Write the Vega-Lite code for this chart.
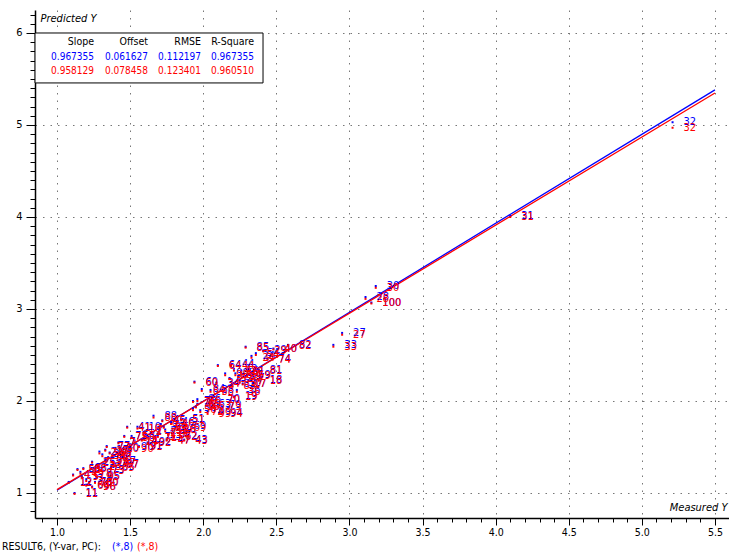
{
  "$schema": "https://vega.github.io/schema/vega-lite/v6.json",
  "width": 694,
  "height": 508,
  "autosize": {"type": "none"},
  "padding": {"left": 35, "top": 10, "right": 0, "bottom": 38},
  "background": "white",
  "config": {
    "view": {"stroke": null},
    "font": "Liberation Sans Narrow, DejaVu Sans Condensed, Arial Narrow, sans-serif"
  },
  "datasets": {
    "samples": [
      {"sample": "1", "measured": 1.58, "pred_blue": 1.58, "pred_red": 1.57},
      {"sample": "2", "measured": 1.60, "pred_blue": 1.67, "pred_red": 1.66},
      {"sample": "3", "measured": 1.20, "pred_blue": 1.15, "pred_red": 1.13},
      {"sample": "4", "measured": 1.11, "pred_blue": 1.20, "pred_red": 1.19},
      {"sample": "5", "measured": 1.17, "pred_blue": 1.18, "pred_red": 1.17},
      {"sample": "6", "measured": 1.96, "pred_blue": 1.97, "pred_red": 1.96},
      {"sample": "7", "measured": 1.42, "pred_blue": 1.55, "pred_red": 1.54},
      {"sample": "8", "measured": 1.26, "pred_blue": 1.22, "pred_red": 1.21},
      {"sample": "9", "measured": 1.71, "pred_blue": 1.75, "pred_red": 1.73},
      {"sample": "10", "measured": 1.55, "pred_blue": 1.72, "pred_red": 1.70},
      {"sample": "11", "measured": 1.12, "pred_blue": 1.00, "pred_red": 0.99},
      {"sample": "12", "measured": 1.08, "pred_blue": 1.12, "pred_red": 1.11},
      {"sample": "13", "measured": 1.69, "pred_blue": 1.63, "pred_red": 1.61},
      {"sample": "14", "measured": 1.53, "pred_blue": 1.57, "pred_red": 1.55},
      {"sample": "15", "measured": 1.33, "pred_blue": 1.47, "pred_red": 1.46},
      {"sample": "16", "measured": 1.95, "pred_blue": 1.94, "pred_red": 1.93},
      {"sample": "17", "measured": 2.27, "pred_blue": 2.19, "pred_red": 2.18},
      {"sample": "18", "measured": 2.38, "pred_blue": 2.23, "pred_red": 2.22},
      {"sample": "19", "measured": 2.21, "pred_blue": 2.05, "pred_red": 2.04},
      {"sample": "20", "measured": 1.40, "pred_blue": 1.49, "pred_red": 1.48},
      {"sample": "21", "measured": 1.70, "pred_blue": 1.67, "pred_red": 1.65},
      {"sample": "22", "measured": 1.29, "pred_blue": 1.45, "pred_red": 1.43},
      {"sample": "23", "measured": 1.28, "pred_blue": 1.30, "pred_red": 1.28},
      {"sample": "24", "measured": 2.33, "pred_blue": 2.49, "pred_red": 2.47},
      {"sample": "25", "measured": 1.24, "pred_blue": 1.34, "pred_red": 1.33},
      {"sample": "26", "measured": 1.79, "pred_blue": 1.70, "pred_red": 1.68},
      {"sample": "27", "measured": 2.95, "pred_blue": 2.74, "pred_red": 2.72},
      {"sample": "28", "measured": 3.11, "pred_blue": 3.13, "pred_red": 3.11},
      {"sample": "29", "measured": 2.41, "pred_blue": 2.55, "pred_red": 2.54},
      {"sample": "30", "measured": 3.18, "pred_blue": 3.25, "pred_red": 3.23},
      {"sample": "31", "measured": 4.10, "pred_blue": 4.01, "pred_red": 4.00},
      {"sample": "32", "measured": 5.21, "pred_blue": 5.03, "pred_red": 4.97},
      {"sample": "33", "measured": 2.89, "pred_blue": 2.61, "pred_red": 2.59},
      {"sample": "34", "measured": 2.09, "pred_blue": 2.20, "pred_red": 2.19},
      {"sample": "35", "measured": 1.31, "pred_blue": 1.42, "pred_red": 1.40},
      {"sample": "36", "measured": 2.23, "pred_blue": 2.12, "pred_red": 2.10},
      {"sample": "37", "measured": 1.76, "pred_blue": 1.64, "pred_red": 1.63},
      {"sample": "38", "measured": 2.05, "pred_blue": 2.12, "pred_red": 2.10},
      {"sample": "39", "measured": 2.24, "pred_blue": 2.27, "pred_red": 2.26},
      {"sample": "40", "measured": 2.48, "pred_blue": 2.57, "pred_red": 2.56},
      {"sample": "41", "measured": 1.48, "pred_blue": 1.72, "pred_red": 1.71},
      {"sample": "42", "measured": 2.21, "pred_blue": 2.35, "pred_red": 2.33},
      {"sample": "43", "measured": 1.87, "pred_blue": 1.58, "pred_red": 1.57},
      {"sample": "44", "measured": 2.19, "pred_blue": 2.40, "pred_red": 2.38},
      {"sample": "45", "measured": 1.72, "pred_blue": 1.79, "pred_red": 1.78},
      {"sample": "46", "measured": 1.78, "pred_blue": 1.77, "pred_red": 1.75},
      {"sample": "47", "measured": 1.75, "pred_blue": 1.58, "pred_red": 1.57},
      {"sample": "48", "measured": 1.35, "pred_blue": 1.39, "pred_red": 1.38},
      {"sample": "49", "measured": 1.16, "pred_blue": 1.23, "pred_red": 1.21},
      {"sample": "50", "measured": 2.22, "pred_blue": 2.30, "pred_red": 2.28},
      {"sample": "51", "measured": 1.85, "pred_blue": 1.80, "pred_red": 1.79},
      {"sample": "52", "measured": 2.18, "pred_blue": 2.25, "pred_red": 2.24},
      {"sample": "53", "measured": 1.14, "pred_blue": 1.26, "pred_red": 1.25},
      {"sample": "54", "measured": 2.36, "pred_blue": 2.52, "pred_red": 2.50},
      {"sample": "55", "measured": 1.74, "pred_blue": 1.69, "pred_red": 1.67},
      {"sample": "56", "measured": 1.93, "pred_blue": 1.92, "pred_red": 1.90},
      {"sample": "57", "measured": 2.25, "pred_blue": 2.22, "pred_red": 2.20},
      {"sample": "58", "measured": 1.51, "pred_blue": 1.62, "pred_red": 1.60},
      {"sample": "59", "measured": 2.30, "pred_blue": 2.28, "pred_red": 2.27},
      {"sample": "60", "measured": 1.94, "pred_blue": 2.21, "pred_red": 2.20},
      {"sample": "61", "measured": 2.26, "pred_blue": 2.33, "pred_red": 2.31},
      {"sample": "62", "measured": 1.80, "pred_blue": 1.62, "pred_red": 1.61},
      {"sample": "63", "measured": 2.03, "pred_blue": 1.97, "pred_red": 1.95},
      {"sample": "64", "measured": 2.10, "pred_blue": 2.39, "pred_red": 2.38},
      {"sample": "65", "measured": 1.37, "pred_blue": 1.28, "pred_red": 1.27},
      {"sample": "66", "measured": 1.20, "pred_blue": 1.09, "pred_red": 1.08},
      {"sample": "67", "measured": 1.38, "pred_blue": 1.35, "pred_red": 1.33},
      {"sample": "68", "measured": 1.18, "pred_blue": 1.27, "pred_red": 1.26},
      {"sample": "69", "measured": 1.86, "pred_blue": 1.73, "pred_red": 1.71},
      {"sample": "70", "measured": 2.09, "pred_blue": 2.02, "pred_red": 2.01},
      {"sample": "71", "measured": 1.66, "pred_blue": 1.61, "pred_red": 1.60},
      {"sample": "72", "measured": 1.98, "pred_blue": 1.90, "pred_red": 1.88},
      {"sample": "73", "measured": 1.30, "pred_blue": 1.25, "pred_red": 1.24},
      {"sample": "74", "measured": 2.44, "pred_blue": 2.46, "pred_red": 2.45},
      {"sample": "75", "measured": 1.46, "pred_blue": 1.62, "pred_red": 1.61},
      {"sample": "76", "measured": 1.93, "pred_blue": 2.00, "pred_red": 1.99},
      {"sample": "77", "measured": 1.34, "pred_blue": 1.51, "pred_red": 1.50},
      {"sample": "78", "measured": 1.22, "pred_blue": 1.12, "pred_red": 1.11},
      {"sample": "79", "measured": 2.10, "pred_blue": 1.96, "pred_red": 1.94},
      {"sample": "80", "measured": 1.26, "pred_blue": 1.12, "pred_red": 1.11},
      {"sample": "81", "measured": 2.38, "pred_blue": 2.34, "pred_red": 2.33},
      {"sample": "82", "measured": 2.58, "pred_blue": 2.61, "pred_red": 2.60},
      {"sample": "83", "measured": 2.20, "pred_blue": 2.18, "pred_red": 2.16},
      {"sample": "84", "measured": 1.99, "pred_blue": 2.13, "pred_red": 2.11},
      {"sample": "85", "measured": 2.29, "pred_blue": 2.59, "pred_red": 2.58},
      {"sample": "86", "measured": 1.96, "pred_blue": 2.02, "pred_red": 2.00},
      {"sample": "87", "measured": 1.40, "pred_blue": 1.32, "pred_red": 1.30},
      {"sample": "88", "measured": 1.66, "pred_blue": 1.84, "pred_red": 1.82},
      {"sample": "89", "measured": 1.73, "pred_blue": 1.72, "pred_red": 1.71},
      {"sample": "90", "measured": 1.50, "pred_blue": 1.50, "pred_red": 1.48},
      {"sample": "91", "measured": 1.56, "pred_blue": 1.51, "pred_red": 1.50},
      {"sample": "92", "measured": 1.62, "pred_blue": 1.55, "pred_red": 1.54},
      {"sample": "93", "measured": 1.33, "pred_blue": 1.36, "pred_red": 1.34},
      {"sample": "94", "measured": 2.11, "pred_blue": 1.87, "pred_red": 1.86},
      {"sample": "95", "measured": 1.27, "pred_blue": 1.18, "pred_red": 1.17},
      {"sample": "96", "measured": 1.24, "pred_blue": 1.07, "pred_red": 1.06},
      {"sample": "97", "measured": 1.36, "pred_blue": 1.44, "pred_red": 1.43},
      {"sample": "98", "measured": 2.15, "pred_blue": 2.30, "pred_red": 2.28},
      {"sample": "99", "measured": 2.03, "pred_blue": 1.88, "pred_red": 1.86},
      {"sample": "100", "measured": 3.15, "pred_blue": 3.07, "pred_red": 3.06}
    ],
    "fits": [
      {"fit": "fit1", "Slope": "0.967355", "Offset": "0.061627", "RMSE": "0.112197", "RSquare": "0.967355"},
      {"fit": "fit2", "Slope": "0.958129", "Offset": "0.078458", "RMSE": "0.123401", "RSquare": "0.960510"}
    ],
    "fitlines": [
      {"fit": "fit1", "measured": 1.0, "predicted": 1.028982},
      {"fit": "fit1", "measured": 5.5, "predicted": 5.382080},
      {"fit": "fit2", "measured": 1.0, "predicted": 1.036587},
      {"fit": "fit2", "measured": 5.5, "predicted": 5.348168}
    ],
    "one": [{}]
  },
  "resolve": {"axis": {"x": "independent", "y": "independent"}},
  "layer": [
    {
      "description": "Fit lines; this layer carries the main axes, labels and grid",
      "data": {"name": "fitlines"},
      "mark": {"type": "line", "strokeWidth": 1.3},
      "encoding": {
        "x": {
          "field": "measured", "type": "quantitative",
          "scale": {"domain": [0.8495, 5.596], "nice": false, "zero": false},
          "axis": {
            "orient": "bottom",
            "values": [1.0, 1.5, 2.0, 2.5, 3.0, 3.5, 4.0, 4.5, 5.0, 5.5],
            "format": ".1f",
            "title": "Measured Y",
            "titleAngle": 0, "titleX": 692, "titleY": -11,
            "titleAlign": "right", "titleBaseline": "middle",
            "titleFontStyle": "italic", "titleFontWeight": "normal", "titleFontSize": 11, "titleColor": "black",
            "grid": true, "gridDash": [1.5, 6], "gridColor": "#777777", "gridWidth": 1,
            "domainColor": "black", "domainWidth": 1.5,
            "tickColor": "black", "tickSize": 7, "tickWidth": 1,
            "labelFontSize": 10.5, "labelColor": "black", "labelPadding": 2, "labelFlush": false
          }
        },
        "y": {
          "field": "predicted", "type": "quantitative",
          "scale": {"domain": [0.728, 6.25], "nice": false, "zero": false},
          "axis": {
            "orient": "left",
            "values": [1, 2, 3, 4, 5, 6],
            "format": "d",
            "title": "Predicted Y",
            "titleAngle": 0, "titleX": 5, "titleY": 8,
            "titleAlign": "left", "titleBaseline": "middle",
            "titleFontStyle": "italic", "titleFontWeight": "normal", "titleFontSize": 11, "titleColor": "black",
            "grid": true, "gridDash": [1.5, 6], "gridColor": "#777777", "gridWidth": 1,
            "domainColor": "black", "domainWidth": 1.5,
            "tickColor": "black", "tickSize": 9, "tickWidth": 1,
            "labelFontSize": 11, "labelColor": "black", "labelPadding": 4, "labelFlush": false
          }
        },
        "color": {
          "field": "fit", "type": "nominal",
          "scale": {"domain": ["fit1", "fit2"], "range": ["#0000ff", "#ff0000"]},
          "legend": null
        }
      }
    },
    {
      "description": "Blue sample points; this layer carries the minor tick axes",
      "data": {"name": "samples"},
      "mark": {"type": "square", "size": 4, "filled": true, "color": "#0000ff", "opacity": 1},
      "encoding": {
        "x": {
          "field": "measured", "type": "quantitative",
          "axis": {
            "orient": "bottom",
            "values": [0.9, 1.0, 1.1, 1.2, 1.3, 1.4, 1.5, 1.6, 1.7, 1.8, 1.9, 2.0, 2.1, 2.2, 2.3, 2.4, 2.5, 2.6, 2.7, 2.8, 2.9, 3.0, 3.1, 3.2, 3.3, 3.4, 3.5, 3.6, 3.7, 3.8, 3.9, 4.0, 4.1, 4.2, 4.3, 4.4, 4.5, 4.6, 4.7, 4.8, 4.9, 5.0, 5.1, 5.2, 5.3, 5.4, 5.5],
            "labels": false, "domain": false, "grid": false, "title": null,
            "tickColor": "black", "tickSize": 4, "tickWidth": 1
          }
        },
        "y": {
          "field": "pred_blue", "type": "quantitative",
          "axis": {
            "orient": "left",
            "values": [0.8, 0.9, 1.0, 1.1, 1.2, 1.3, 1.4, 1.5, 1.6, 1.7, 1.8, 1.9, 2.0, 2.1, 2.2, 2.3, 2.4, 2.5, 2.6, 2.7, 2.8, 2.9, 3.0, 3.1, 3.2, 3.3, 3.4, 3.5, 3.6, 3.7, 3.8, 3.9, 4.0, 4.1, 4.2, 4.3, 4.4, 4.5, 4.6, 4.7, 4.8, 4.9, 5.0, 5.1, 5.2, 5.3, 5.4, 5.5, 5.6, 5.7, 5.8, 5.9, 6.0, 6.1, 6.2],
            "labels": false, "domain": false, "grid": false, "title": null,
            "tickColor": "black", "tickSize": 5, "tickWidth": 1
          }
        }
      }
    },
    {
      "data": {"name": "samples"},
      "mark": {"type": "text", "align": "left", "baseline": "middle", "dx": 11, "fontSize": 11, "color": "#0000ff"},
      "encoding": {
        "x": {"field": "measured", "type": "quantitative", "axis": null},
        "y": {"field": "pred_blue", "type": "quantitative", "axis": null},
        "text": {"field": "sample"}
      }
    },
    {
      "data": {"name": "samples"},
      "mark": {"type": "square", "size": 4, "filled": true, "color": "#ff0000", "opacity": 1},
      "encoding": {
        "x": {"field": "measured", "type": "quantitative", "axis": null},
        "y": {"field": "pred_red", "type": "quantitative", "axis": null}
      }
    },
    {
      "data": {"name": "samples"},
      "mark": {"type": "text", "align": "left", "baseline": "middle", "dx": 11, "fontSize": 11, "color": "#ff0000"},
      "encoding": {
        "x": {"field": "measured", "type": "quantitative", "axis": null},
        "y": {"field": "pred_red", "type": "quantitative", "axis": null},
        "text": {"field": "sample"}
      }
    },
    {
      "description": "Statistics box",
      "data": {"name": "one"},
      "mark": {"type": "rect", "fill": "white", "stroke": "black", "strokeWidth": 1},
      "encoding": {
        "x": {"datum": 0.8495, "type": "quantitative", "axis": null},
        "x2": {"datum": 2.409},
        "y": {"datum": 6.0, "type": "quantitative", "axis": null},
        "y2": {"datum": 5.457}
      }
    },
    {
      "data": {"name": "one"},
      "mark": {"type": "text", "align": "right", "baseline": "middle", "fontSize": 10.5, "color": "black"},
      "encoding": {"x": {"datum": 1.253, "type": "quantitative", "axis": null}, "y": {"datum": 5.902, "type": "quantitative", "axis": null}, "text": {"value": "Slope"}}
    },
    {
      "data": {"name": "one"},
      "mark": {"type": "text", "align": "right", "baseline": "middle", "fontSize": 10.5, "color": "black"},
      "encoding": {"x": {"datum": 1.622, "type": "quantitative", "axis": null}, "y": {"datum": 5.902, "type": "quantitative", "axis": null}, "text": {"value": "Offset"}}
    },
    {
      "data": {"name": "one"},
      "mark": {"type": "text", "align": "right", "baseline": "middle", "fontSize": 10.5, "color": "black"},
      "encoding": {"x": {"datum": 1.985, "type": "quantitative", "axis": null}, "y": {"datum": 5.902, "type": "quantitative", "axis": null}, "text": {"value": "RMSE"}}
    },
    {
      "data": {"name": "one"},
      "mark": {"type": "text", "align": "right", "baseline": "middle", "fontSize": 10.5, "color": "black"},
      "encoding": {"x": {"datum": 2.347, "type": "quantitative", "axis": null}, "y": {"datum": 5.902, "type": "quantitative", "axis": null}, "text": {"value": "R-Square"}}
    },
    {
      "data": {"name": "fits"},
      "transform": [{"filter": "datum.fit == 'fit1'"}],
      "mark": {"type": "text", "align": "right", "baseline": "middle", "fontSize": 10, "color": "#0000ff"},
      "encoding": {"x": {"datum": 1.253, "type": "quantitative", "axis": null}, "y": {"datum": 5.739, "type": "quantitative", "axis": null}, "text": {"field": "Slope"}}
    },
    {
      "data": {"name": "fits"},
      "transform": [{"filter": "datum.fit == 'fit1'"}],
      "mark": {"type": "text", "align": "right", "baseline": "middle", "fontSize": 10, "color": "#0000ff"},
      "encoding": {"x": {"datum": 1.622, "type": "quantitative", "axis": null}, "y": {"datum": 5.739, "type": "quantitative", "axis": null}, "text": {"field": "Offset"}}
    },
    {
      "data": {"name": "fits"},
      "transform": [{"filter": "datum.fit == 'fit1'"}],
      "mark": {"type": "text", "align": "right", "baseline": "middle", "fontSize": 10, "color": "#0000ff"},
      "encoding": {"x": {"datum": 1.985, "type": "quantitative", "axis": null}, "y": {"datum": 5.739, "type": "quantitative", "axis": null}, "text": {"field": "RMSE"}}
    },
    {
      "data": {"name": "fits"},
      "transform": [{"filter": "datum.fit == 'fit1'"}],
      "mark": {"type": "text", "align": "right", "baseline": "middle", "fontSize": 10, "color": "#0000ff"},
      "encoding": {"x": {"datum": 2.347, "type": "quantitative", "axis": null}, "y": {"datum": 5.739, "type": "quantitative", "axis": null}, "text": {"field": "RSquare"}}
    },
    {
      "data": {"name": "fits"},
      "transform": [{"filter": "datum.fit == 'fit2'"}],
      "mark": {"type": "text", "align": "right", "baseline": "middle", "fontSize": 10, "color": "#ff0000"},
      "encoding": {"x": {"datum": 1.253, "type": "quantitative", "axis": null}, "y": {"datum": 5.587, "type": "quantitative", "axis": null}, "text": {"field": "Slope"}}
    },
    {
      "data": {"name": "fits"},
      "transform": [{"filter": "datum.fit == 'fit2'"}],
      "mark": {"type": "text", "align": "right", "baseline": "middle", "fontSize": 10, "color": "#ff0000"},
      "encoding": {"x": {"datum": 1.622, "type": "quantitative", "axis": null}, "y": {"datum": 5.587, "type": "quantitative", "axis": null}, "text": {"field": "Offset"}}
    },
    {
      "data": {"name": "fits"},
      "transform": [{"filter": "datum.fit == 'fit2'"}],
      "mark": {"type": "text", "align": "right", "baseline": "middle", "fontSize": 10, "color": "#ff0000"},
      "encoding": {"x": {"datum": 1.985, "type": "quantitative", "axis": null}, "y": {"datum": 5.587, "type": "quantitative", "axis": null}, "text": {"field": "RMSE"}}
    },
    {
      "data": {"name": "fits"},
      "transform": [{"filter": "datum.fit == 'fit2'"}],
      "mark": {"type": "text", "align": "right", "baseline": "middle", "fontSize": 10, "color": "#ff0000"},
      "encoding": {"x": {"datum": 2.347, "type": "quantitative", "axis": null}, "y": {"datum": 5.587, "type": "quantitative", "axis": null}, "text": {"field": "RSquare"}}
    },
    {
      "description": "Caption under the axis",
      "data": {"name": "one"},
      "mark": {"type": "text", "align": "left", "baseline": "middle", "fontSize": 10.5, "color": "black"},
      "encoding": {"x": {"datum": 0.624, "type": "quantitative", "axis": null}, "y": {"datum": 0.413, "type": "quantitative", "axis": null}, "text": {"value": "RESULT6, (Y-var, PC):"}}
    },
    {
      "data": {"name": "one"},
      "mark": {"type": "text", "align": "left", "baseline": "middle", "fontSize": 10.5, "color": "#0000ff"},
      "encoding": {"x": {"datum": 1.376, "type": "quantitative", "axis": null}, "y": {"datum": 0.413, "type": "quantitative", "axis": null}, "text": {"value": "(*,8)"}}
    },
    {
      "data": {"name": "one"},
      "mark": {"type": "text", "align": "left", "baseline": "middle", "fontSize": 10.5, "color": "#ff0000"},
      "encoding": {"x": {"datum": 1.547, "type": "quantitative", "axis": null}, "y": {"datum": 0.413, "type": "quantitative", "axis": null}, "text": {"value": "(*,8)"}}
    }
  ]
}
